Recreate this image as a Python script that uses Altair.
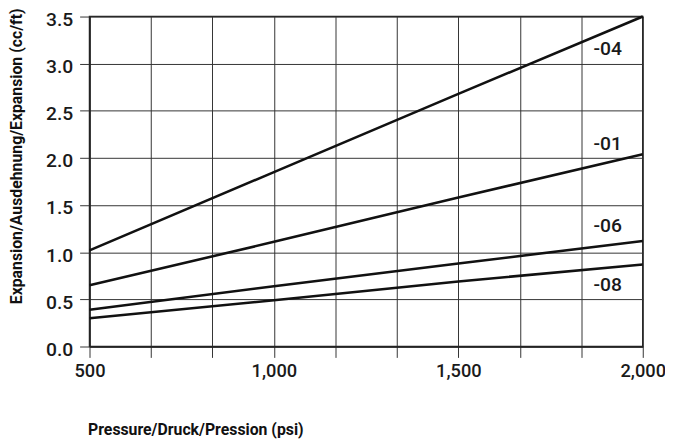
import altair as alt
import pandas as pd

# ---- data ----
pressure = [500, 1000, 1500, 2000]
exp_04 = [1.02, 1.85, 2.68, 3.50]
exp_01 = [0.65, 1.11, 1.58, 2.04]
exp_06 = [0.39, 0.64, 0.88, 1.12]
exp_08 = [0.30, 0.49, 0.69, 0.87]
series_names = ["-04", "-01", "-06", "-08"]
label_x = [1905, 1905, 1905, 1905]
label_y = [3.16, 2.15, 1.28, 0.65]
x_ticks = [500, 666.667, 833.333, 1000, 1166.667, 1333.333, 1500, 1666.667, 1833.333, 2000]
y_ticks = [0, 0.5, 1.0, 1.5, 2.0, 2.5, 3.0, 3.5]

series_values = [exp_04, exp_01, exp_06, exp_08]
rows = []
for name, vals in zip(series_names, series_values):
    for p, v in zip(pressure, vals):
        rows.append({"series": name, "pressure": p, "expansion": v})
lines_df = pd.DataFrame(rows)
labels_df = pd.DataFrame({"series": series_names, "pressure": label_x, "expansion": label_y})

FONT = "Roboto"

x_scale = alt.Scale(domain=[500, 2000], nice=False, zero=False)
y_scale = alt.Scale(domain=[0, 3.5], nice=False, zero=True)

x_axis = alt.Axis(
    values=x_ticks,
    labelExpr="abs(datum.value % 500) < 1 ? format(datum.value, ',') : ''",
    title="Pressure/Druck/Pression (psi)",
    titleFont=FONT, titleFontSize=16, titleFontWeight="bold", titleColor="#111",
    titleX=-2, titleY=89, titleAlign="left", titleBaseline="alphabetic",
    labelFont=FONT, labelFontSize=18.5, labelFontWeight=500, labelColor="#1a1a1a", labelPadding=4,
    tickSize=11, tickColor="#333", tickWidth=1,
    grid=True, gridColor="#333", gridWidth=1,
    domainColor="#222", domainWidth=1.5, labelFlush=False,
)
y_axis = alt.Axis(
    values=y_ticks,
    format=".1f",
    title="Expansion/Ausdehnung/Expansion (cc/ft)",
    titleFont=FONT, titleFontSize=16, titleFontWeight="bold", titleColor="#111",
    titleX=-66, titleY=141, titleAlign="center", titleBaseline="bottom", titleAngle=-90,
    labelFont=FONT, labelFontSize=19.5, labelFontWeight=500, labelColor="#1a1a1a", labelPadding=7,
    labelOffset=3,
    tickSize=10, tickColor="#333", tickWidth=1,
    grid=True, gridColor="#333", gridWidth=1,
    domainColor="#222", domainWidth=1.5, labelFlush=False,
)

lines = alt.Chart(lines_df).mark_line(color="#111", strokeWidth=2.6).encode(
    x=alt.X("pressure:Q", scale=x_scale, axis=x_axis),
    y=alt.Y("expansion:Q", scale=y_scale, axis=y_axis),
    detail="series:N",
)

labels = alt.Chart(labels_df).mark_text(
    font=FONT, fontSize=19.5, fontWeight=500, color="#1a1a1a", align="center", baseline="middle"
).encode(
    x=alt.X("pressure:Q", scale=x_scale),
    y=alt.Y("expansion:Q", scale=y_scale),
    text="series:N",
)

chart = (lines + labels).properties(
    width=560,
    height=334,
    autosize=alt.AutoSizeParams(type="none"),
    padding={"left": 82.5, "top": 6, "right": 22.5, "bottom": 94},
    background="white",
).configure_view(stroke="#222", strokeWidth=1.5)

chart.save("out.html", embed_options={"renderer": "svg", "actions": False})
